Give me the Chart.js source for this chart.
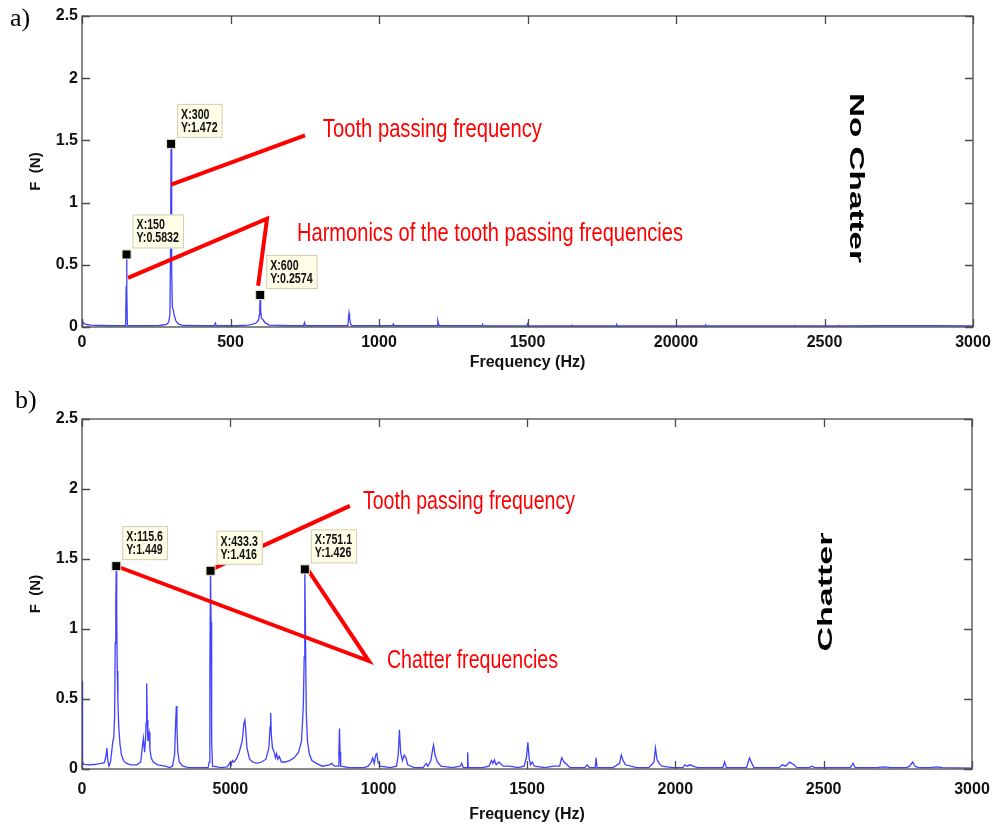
<!DOCTYPE html>
<html>
<head>
<meta charset="utf-8">
<script src="https://cdn.jsdelivr.net/npm/chart.js@4.4.1/dist/chart.umd.min.js"></script>
<style>
  html,body{margin:0;padding:0;background:#fff;}
  body{width:1004px;height:826px;position:relative;overflow:hidden;}
  canvas{position:absolute;left:0;}
  #c1{top:0;}
  #c2{top:390px;}
</style>
</head>
<body>
<canvas id="c1" width="1004" height="390"></canvas>
<canvas id="c2" width="1004" height="436"></canvas>
<script>
// ---------- DATA ----------
// (a) No chatter spectrum
const freqA = [0,2,6,15,30,60,100,140,147,148.5,150,151.5,153,200,260,285,292,296,298,300,302,304,307,311,316,324,340,400,446,449,452,520,560,585,594,597,598.5,600,601.5,604,609,616,630,700,746,749,752,800,895,897,899,901,904,908,1046,1048,1051,1196,1198,1200,1203,1347,1349,1352,1498,1500,1503,1648,1650,1653,1798,1800,1803,2098,2100,2103,2398,2400,2403,2548,2550,2553,2700,2850,3000];
const ampA  = [0.06,0.045,0.03,0.02,0.015,0.012,0.01,0.01,0.01,0.3,0.5832,0.28,0.01,0.01,0.012,0.02,0.04,0.1,0.6,1.472,0.45,0.16,0.14,0.09,0.05,0.025,0.012,0.01,0.01,0.03,0.01,0.01,0.015,0.03,0.05,0.1,0.15,0.2574,0.14,0.07,0.06,0.035,0.015,0.01,0.01,0.035,0.01,0.01,0.01,0.06,0.11,0.07,0.03,0.01,0.01,0.025,0.01,0.01,0.05,0.03,0.01,0.01,0.02,0.008,0.008,0.025,0.008,0.008,0.015,0.008,0.008,0.02,0.008,0.008,0.015,0.008,0.008,0.012,0.008,0.008,0.012,0.008,0.01,0.01,0.008];

// (b) Chatter spectrum
const freqB = [0,2,5,20,40,60,75,80,84,87,91,96,100,104,107,110,112,114,115.6,117,119,121,124,128,133,140,150,165,185,198,203,207,211,214,216,218,220,222,224,226,229,233,240,255,280,295,305,312,316,318,320,323,328,340,360,400,425,429,431,433.3,435,437,440,470,490,500,503,507,512,520,530,540,546,549,552,556,565,575,590,605,620,630,634,636,638,642,648,652,656,660,665,672,685,700,715,730,740,746,749,751.1,753,756,760,766,775,790,810,835,842,850,864,866,868,870,872,900,950,965,975,980,985,990,994,998,1005,1040,1060,1066,1070,1074,1080,1086,1092,1098,1120,1150,1160,1166,1176,1182,1185,1190,1198,1210,1250,1275,1280,1285,1298,1300,1302,1350,1372,1380,1385,1390,1396,1405,1420,1440,1470,1490,1498,1503,1507,1512,1518,1525,1560,1590,1610,1617,1625,1635,1645,1695,1703,1710,1730,1733,1736,1790,1812,1818,1824,1832,1850,1870,1910,1920,1928,1933,1938,1945,1955,1990,2025,2032,2040,2050,2060,2075,2160,2166,2172,2240,2250,2258,2265,2350,2360,2372,2385,2392,2400,2410,2450,2460,2470,2590,2599,2606,2680,2700,2730,2780,2790,2800,2808,2820,2860,2880,2900,3000];
const ampB  = [0.63,0.05,0.035,0.03,0.032,0.038,0.045,0.08,0.15,0.06,0.02,0.05,0.12,0.2,0.22,0.38,0.9,1.2,1.449,1.1,0.7,0.48,0.3,0.18,0.1,0.06,0.04,0.03,0.03,0.05,0.15,0.22,0.12,0.2,0.33,0.61,0.35,0.2,0.24,0.26,0.14,0.08,0.05,0.03,0.02,0.01,0.02,0.1,0.35,0.45,0.3,0.12,0.05,0.02,0.01,0.01,0.01,0.05,0.7,1.416,1.05,0.2,0.02,0.01,0.015,0.05,0.03,0.06,0.05,0.07,0.12,0.2,0.33,0.35,0.28,0.15,0.07,0.05,0.04,0.05,0.07,0.15,0.3,0.4,0.25,0.15,0.12,0.08,0.11,0.07,0.09,0.05,0.05,0.06,0.08,0.12,0.2,0.45,0.8,1.426,1.0,0.4,0.2,0.11,0.06,0.04,0.02,0.03,0.04,0.02,0.02,0.12,0.29,0.12,0.02,0.01,0.01,0.02,0.05,0.08,0.04,0.1,0.11,0.05,0.02,0.01,0.02,0.1,0.28,0.12,0.06,0.1,0.08,0.03,0.01,0.01,0.04,0.02,0.06,0.14,0.17,0.1,0.05,0.02,0.01,0.02,0.04,0.01,0.01,0.12,0.01,0.01,0.02,0.06,0.04,0.065,0.03,0.05,0.02,0.02,0.01,0.02,0.08,0.19,0.08,0.03,0.05,0.02,0.01,0.02,0.02,0.08,0.05,0.03,0.01,0.01,0.03,0.01,0.01,0.08,0.01,0.01,0.04,0.1,0.06,0.03,0.02,0.01,0.01,0.03,0.05,0.15,0.07,0.04,0.02,0.01,0.01,0.03,0.02,0.03,0.02,0.01,0.01,0.05,0.01,0.01,0.08,0.04,0.01,0.01,0.03,0.02,0.05,0.04,0.03,0.01,0.01,0.02,0.01,0.01,0.04,0.01,0.01,0.015,0.01,0.01,0.02,0.05,0.02,0.01,0.01,0.015,0.01,0.006];

// tick labels (as printed in the figure)
const xTickLabelsA = ['0','500','1000','1500','20000','2500','3000'];
const xTickLabelsB = ['0','5000','1000','1500','2000','2500','3000'];
const yTickLabels  = ['0','0.5','1','1.5','2','2.5'];

// data tips
const tipsA = [
  {x:300, y:1.472,  lines:['X:300','Y:1.472']},
  {x:150, y:0.5832, lines:['X:150','Y:0.5832']},
  {x:600, y:0.2574, lines:['X:600','Y:0.2574']}
];
const tipsB = [
  {x:115.6, y:1.449, lines:['X:115.6','Y:1.449']},
  {x:433.3, y:1.416, lines:['X:433.3','Y:1.416']},
  {x:751.1, y:1.426, lines:['X:751.1','Y:1.426']}
];

// annotation pointer lines (data units: [freq, F])
const arrowsA = [
  [[300,1.145],[751,1.54]],
  [[155,0.395],[623,0.871],[593,0.331]]
];
const arrowsB = [
  [[431.5,1.421],[903,1.879]],
  [[114.6,1.45],[967,0.771],[755,1.443]]
];
// annotation texts (left x in Hz, baseline in N)
const notesA = [
  {text:'Tooth passing frequency', x:811, y:1.524, w:219},
  {text:'Harmonics of the tooth passing frequencies', x:724, y:0.694, w:386}
];
const notesB = [
  {text:'Tooth passing frequency', x:947, y:1.857, w:212},
  {text:'Chatter frequencies', x:1028, y:0.721, w:171}
];

// ---------- DRAWING ----------
const SANS = '"Liberation Sans Narrow", "Liberation Sans", Arial, sans-serif';

function drawText(ctx, text, x, y, o){
  ctx.save();
  ctx.font = o.font;
  ctx.fillStyle = o.color || '#000';
  ctx.textBaseline = o.baseline || 'alphabetic';
  ctx.textAlign = o.align || 'left';
  ctx.translate(x, y);
  if (o.rotate) ctx.rotate(o.rotate);
  const w = ctx.measureText(text).width;
  const sx = o.width ? o.width / w : (o.sx || 1);
  ctx.scale(sx, 1);
  ctx.fillText(text, 0, 0);
  ctx.restore();
}

const overlayPlugin = {
  id: 'overlay',
  afterDraw(chart, args, opts){
    const ctx = chart.ctx;
    const xs = chart.scales.x, ys = chart.scales.y;
    const a = chart.chartArea;
    // frame box
    ctx.save();
    ctx.strokeStyle = '#4a4a4a';
    ctx.lineWidth = 1.3;
    ctx.strokeRect(a.left, a.top, a.right - a.left, a.bottom - a.top);
    // inward ticks on all sides
    ctx.beginPath();
    xs.ticks.forEach(t => {
      const px = Math.round(xs.getPixelForValue(t.value)) + 0.5;
      ctx.moveTo(px, a.bottom); ctx.lineTo(px, a.bottom - 8);
      ctx.moveTo(px, a.top); ctx.lineTo(px, a.top + 8);
    });
    ys.ticks.forEach(t => {
      const py = Math.round(ys.getPixelForValue(t.value)) + 0.5;
      ctx.moveTo(a.left, py); ctx.lineTo(a.left + 8, py);
      ctx.moveTo(a.right, py); ctx.lineTo(a.right - 8, py);
    });
    ctx.stroke();
    ctx.restore();

    // red pointer lines
    ctx.save();
    ctx.strokeStyle = '#ff0000';
    ctx.lineWidth = 4;
    ctx.lineJoin = 'miter';
    opts.arrows.forEach(pts => {
      ctx.beginPath();
      pts.forEach((p, i) => {
        const px = xs.getPixelForValue(p[0]), py = ys.getPixelForValue(p[1]);
        if (i === 0) ctx.moveTo(px, py); else ctx.lineTo(px, py);
      });
      ctx.stroke();
    });
    ctx.restore();

    // red notes
    opts.notes.forEach(n => {
      drawText(ctx, n.text, xs.getPixelForValue(n.x), ys.getPixelForValue(n.y),
        {font:'26px "Liberation Sans", Arial, sans-serif', color:'#ff0000', width:n.w});
    });

    // data tips
    opts.tips.forEach(t => {
      const mx = xs.getPixelForValue(t.x), my = ys.getPixelForValue(t.y);
      const tipFont = 'bold 14px "Liberation Sans", Arial, sans-serif';
      const sx = 0.76;
      ctx.save();
      ctx.font = tipFont;
      const tw = Math.max(...t.lines.map(l => ctx.measureText(l).width)) * sx;
      const bw = tw + 9, bh = 34;
      const bx = mx + 6, by = my - 6 - bh;
      ctx.fillStyle = '#ffffe8';
      ctx.strokeStyle = '#cfcfb8';
      ctx.lineWidth = 1;
      ctx.fillRect(bx, by, bw, bh);
      ctx.strokeRect(bx + 0.5, by + 0.5, bw - 1, bh - 1);
      ctx.restore();
      t.lines.forEach((l, i) => {
        drawText(ctx, l, bx + 4, by + 15 + i * 13,
          {font: tipFont, color:'#111', sx: sx});
      });
      ctx.save();
      ctx.fillStyle = '#000';
      ctx.strokeStyle = '#e8e8c8';
      ctx.lineWidth = 1;
      ctx.fillRect(mx - 4.5, my - 4.5, 9, 9);
      ctx.strokeRect(mx - 4.5, my - 4.5, 9, 9);
      ctx.restore();
    });

    // free labels
    opts.labels.forEach(l => drawText(ctx, l.text, l.x, l.y, l));
  }
};
Chart.register(overlayPlugin);

function makeChart(id, freq, amp, xLabels, cfg){
  const tickFont = {family: SANS, size:16, weight:'bold'};
  return new Chart(document.getElementById(id), {
    type: 'line',
    data: {
      datasets: [{
        data: freq.map((f, i) => ({x: f, y: amp[i]})),
        borderColor: '#4040ff',
        borderWidth: 1.3,
        pointRadius: 0,
        tension: 0,
        fill: false
      }]
    },
    options: {
      responsive: false,
      animation: false,
      events: [],
      layout: {padding: {top: cfg.padTop, right: cfg.padRight, left: 0, bottom: 0}},
      plugins: {
        legend: {display: false},
        tooltip: {enabled: false},
        overlay: {arrows: cfg.arrows, notes: cfg.notes, tips: cfg.tips, labels: cfg.labels}
      },
      scales: {
        x: {
          type: 'linear', min: 0, max: 3000,
          afterBuildTicks(s){ s.ticks = xLabels.map((_, i) => ({value: i * 500})); },
          ticks: {
            callback: (v) => xLabels[Math.round(v / 500)],
            font: tickFont, color: '#111', padding: cfg.xTickPad,
            maxRotation: 0, autoSkip: false
          },
          grid: {display: false, drawTicks: false},
          border: {display: false},
          title: {
            display: true, text: 'Frequency (Hz)', color: '#111',
            font: {family: SANS, size:16, weight:'bold'},
            padding: {top: 0, bottom: cfg.xTitlePad}
          },
          afterFit(s){ s.height = cfg.xHeight; }
        },
        y: {
          type: 'linear', min: 0, max: 2.5,
          afterBuildTicks(s){ s.ticks = yTickLabels.map((_, i) => ({value: i * 0.5})); },
          ticks: {
            callback: (v) => yTickLabels[Math.round(v / 0.5)],
            font: tickFont, color: '#111', padding: 4
          },
          grid: {display: false, drawTicks: false},
          border: {display: false},
          title: {
            display: true, text: 'F  (N)', color: '#111',
            font: {family:'"Liberation Sans", Arial, sans-serif', size:15, weight:'bold'},
            padding: {top: 27, bottom: 0}
          },
          afterFit(s){ s.width = 82; }
        }
      }
    }
  });
}

makeChart('c1', freqA, ampA, xTickLabelsA, {
  padTop: 16, padRight: 31, xHeight: 63, xTickPad: 6, xTitlePad: 17.4,
  arrows: arrowsA, notes: notesA, tips: tipsA,
  labels: [
    {text:'a)', x:10, y:26, font:'26px "Liberation Serif", "Times New Roman", serif', color:'#000'},
    {text:'No Chatter', x:856, y:178, font:'bold 21px "Liberation Sans", Arial, sans-serif', color:'#000',
     align:'center', baseline:'middle', rotate:Math.PI/2, width:170}
  ]
});

makeChart('c2', freqB, ampB, xTickLabelsB, {
  padTop: 29, padRight: 32, xHeight: 57, xTickPad: 11, xTitlePad: 1.4,
  arrows: arrowsB, notes: notesB, tips: tipsB,
  labels: [
    {text:'b)', x:15, y:18, font:'26px "Liberation Serif", "Times New Roman", serif', color:'#000'},
    {text:'Chatter', x:826, y:202, font:'bold 21px "Liberation Sans", Arial, sans-serif', color:'#000',
     align:'center', baseline:'middle', rotate:-Math.PI/2, width:119}
  ]
});
</script>
</body>
</html>
